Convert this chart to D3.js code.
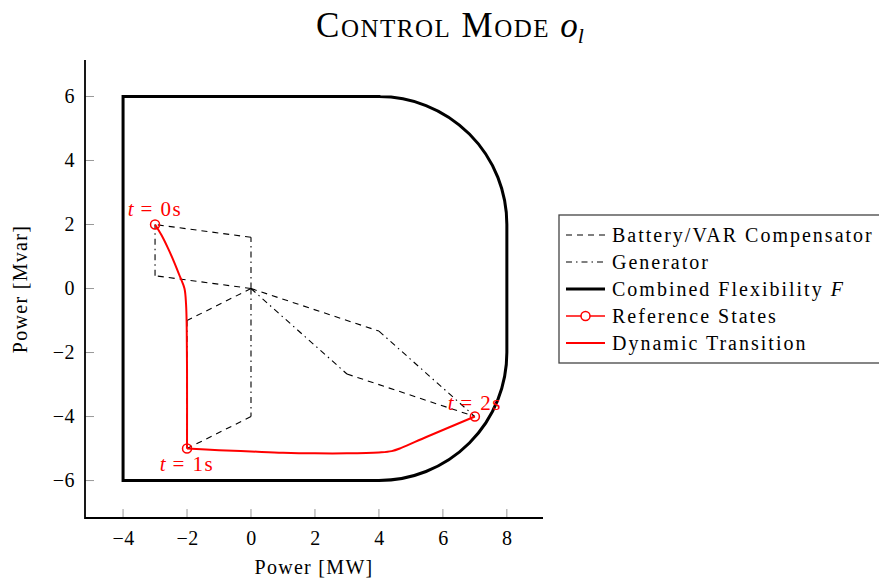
<!DOCTYPE html>
<html>
<head>
<meta charset="utf-8">
<script src="https://cdn.jsdelivr.net/npm/d3@7"></script>
<style>
  body { margin: 0; background: #fff; }
  svg { display: block; font-family: "Liberation Serif", "DejaVu Serif", serif; }
</style>
</head>
<body>
<svg id="chart"></svg>
<script>
// Axis ticks
const xTicks = [-4, -2, 0, 2, 4, 6, 8];
const yTicks = [-6, -4, -2, 0, 2, 4, 6];

// Combined flexibility F: corners of the outline and radius of the rounded corners
const flexOutline = [[-4, -6], [-4, 6], [4, 6], [8, 2], [8, -2], [4, -6]];
const flexRadius = 4;

// Reference states at t = 0s, 1s, 2s
const refLabels = ["0s", "1s", "2s"];
const refP = [-3, -2, 7];
const refQ = [2, -5, -4];

// Battery / VAR compensator share of each state
const batP = [-3, -2, 4];
const batQ = [0.4, -1, -1.33];

// Generator share of each state
const genP = [0, 0, 3];
const genQ = [1.6, -4, -2.67];

// Dynamic transition, first leg (t = 0s -> 1s) and second leg (t = 1s -> 2s)
const dyn1P = [-3, -2.8, -2.6, -2.4, -2.22, -2.08, -2.03, -2.01, -2, -2];
const dyn1Q = [2, 1.67, 1.27, 0.82, 0.37, 0, -0.5, -1.2, -2.5, -5];
const dyn2P = [-2, -1, 0, 1, 2, 3, 4, 4.4, 4.7, 5.5, 7];
const dyn2Q = [-5, -5.05, -5.09, -5.13, -5.15, -5.15, -5.12, -5.08, -4.98, -4.63, -4];

const legendItems = ["Battery/VAR Compensator", "Generator", "Combined Flexibility ",
                     "Reference States", "Dynamic Transition"];

const W = 879, H = 578;

const svg = d3.select("#chart").attr("width", W).attr("height", H);

const x = d3.scaleLinear().domain([-5.19, 9.13]).range([85, 543]);
const y = d3.scaleLinear().domain([-7.17, 7.14]).range([518, 60]);

const DASH = "6,5";
const DASHDOT = "6,4,1.5,4";
const minus = d => d < 0 ? "\u2212" + Math.abs(d) : d;

// Axes (left and bottom only, ticks pointing inwards)
const xAxis = svg.append("g")
    .attr("transform", `translate(0,${y.range()[0]})`)
    .call(d3.axisBottom(x).tickValues(xTicks).tickSize(0).tickPadding(13).tickFormat(minus));
const yAxis = svg.append("g")
    .attr("transform", `translate(${x.range()[0]},0)`)
    .call(d3.axisLeft(y).tickValues(yTicks).tickSize(0).tickPadding(10).tickFormat(minus));

[xAxis, yAxis].forEach(g => {
  g.select(".domain").remove();
  g.attr("font-family", null);
  g.selectAll("text").attr("font-size", 20).attr("fill", "#000").attr("letter-spacing", 0.5);
});
xAxis.selectAll("text").attr("dy", "0.71em");

// tick marks inside
svg.append("g").selectAll("line").data(xTicks).join("line")
    .attr("x1", d => x(d)).attr("x2", d => x(d))
    .attr("y1", y.range()[0]).attr("y2", y.range()[0] - 9)
    .attr("stroke", "#999").attr("stroke-width", 1);
svg.append("g").selectAll("line").data(yTicks).join("line")
    .attr("y1", d => y(d)).attr("y2", d => y(d))
    .attr("x1", x.range()[0]).attr("x2", x.range()[0] + 9)
    .attr("stroke", "#999").attr("stroke-width", 1);

// axis lines
svg.append("path")
    .attr("d", `M${x.range()[0]},${y.range()[1]}V${y.range()[0]}H${x.range()[1]}`)
    .attr("fill", "none").attr("stroke", "#000").attr("stroke-width", 1.8);

// Combined flexibility outline with rounded corners
const r = x(flexRadius) - x(0);
const fp = d3.path();
fp.moveTo(x(flexOutline[0][0]), y(flexOutline[0][1]));
fp.lineTo(x(flexOutline[1][0]), y(flexOutline[1][1]));
fp.lineTo(x(flexOutline[2][0]), y(flexOutline[2][1]));
fp.arc(x(flexOutline[2][0]), y(flexOutline[3][1]), r, -Math.PI / 2, 0);
fp.lineTo(x(flexOutline[4][0]), y(flexOutline[4][1]));
fp.arc(x(flexOutline[5][0]), y(flexOutline[4][1]), r, 0, Math.PI / 2);
fp.closePath();
svg.append("path").attr("d", fp.toString())
    .attr("fill", "none").attr("stroke", "#000").attr("stroke-width", 3)
    .attr("stroke-linejoin", "miter");

// Battery and generator contributions as parallelograms
const segs = [];
refP.forEach((p, i) => {
  segs.push({ a: [0, 0], b: [batP[i], batQ[i]], dash: DASH });
  segs.push({ a: [batP[i], batQ[i]], b: [refP[i], refQ[i]], dash: DASHDOT });
  segs.push({ a: [0, 0], b: [genP[i], genQ[i]], dash: DASHDOT });
  segs.push({ a: [genP[i], genQ[i]], b: [refP[i], refQ[i]], dash: DASH });
});
svg.append("g").selectAll("line").data(segs).join("line")
    .attr("x1", d => x(d.a[0])).attr("y1", d => y(d.a[1]))
    .attr("x2", d => x(d.b[0])).attr("y2", d => y(d.b[1]))
    .attr("stroke", "#000").attr("stroke-width", 1.1)
    .attr("stroke-dasharray", d => d.dash);

// Dynamic transition
const dynLine = d3.line().x(d => x(d[0])).y(d => y(d[1])).curve(d3.curveCatmullRom.alpha(0.5));
const legs = [dyn1P.map((p, i) => [p, dyn1Q[i]]), dyn2P.map((p, i) => [p, dyn2Q[i]])];
svg.append("path")
    .attr("d", legs.map(l => dynLine(l)).join(""))
    .attr("fill", "none").attr("stroke", "#f00").attr("stroke-width", 2)
    .attr("stroke-linejoin", "round");

// Reference states
svg.append("g").selectAll("circle").data(refP).join("circle")
    .attr("cx", d => x(d)).attr("cy", (d, i) => y(refQ[i])).attr("r", 4.5)
    .attr("fill", "none").attr("stroke", "#f00").attr("stroke-width", 1.5);

const labelDy = [-9, 22, -7];
const tl = svg.append("g").selectAll("text").data(refLabels).join("text")
    .attr("x", (d, i) => x(refP[i]))
    .attr("y", (d, i) => y(refQ[i]) + labelDy[i])
    .attr("text-anchor", "middle").attr("font-size", 21).attr("fill", "#f00")
    .attr("xml:space", "preserve");
tl.append("tspan").attr("font-style", "italic").text("t");
tl.append("tspan").attr("letter-spacing", 1.5).text(d => " = " + d);

// Title
const title = svg.append("text").attr("x", 450).attr("y", 37)
    .attr("text-anchor", "middle").attr("font-size", 35);
title.append("tspan").style("font-variant", "small-caps").attr("letter-spacing", 1.5).text("Control Mode ");
title.append("tspan").attr("font-style", "italic").text("o");
title.append("tspan").attr("font-style", "italic").attr("font-size", 22).attr("dy", 6).text("l");

// Axis labels
svg.append("text").attr("x", 314).attr("y", 574).attr("text-anchor", "middle")
    .attr("font-size", 20).attr("letter-spacing", 1.3).text("Power [MW]");
svg.append("text").attr("transform", "translate(27,289) rotate(-90)")
    .attr("text-anchor", "middle").attr("font-size", 20).attr("letter-spacing", 1.3).text("Power [Mvar]");

// Legend
const lg = svg.append("g").attr("transform", "translate(559,215)");
lg.append("rect").attr("x", 0).attr("y", 0).attr("width", 330).attr("height", 148)
    .attr("fill", "#fff").attr("stroke", "#444").attr("stroke-width", 1.3);
const rowY = i => 20 + i * 27;
const styles = [
  { stroke: "#000", w: 1.1, dash: DASH },
  { stroke: "#000", w: 1.1, dash: DASHDOT },
  { stroke: "#000", w: 3, dash: null },
  { stroke: "#f00", w: 1.5, dash: null },
  { stroke: "#f00", w: 2, dash: null }
];
legendItems.forEach((t, i) => {
  lg.append("line").attr("x1", 7).attr("x2", 46).attr("y1", rowY(i)).attr("y2", rowY(i))
      .attr("stroke", styles[i].stroke).attr("stroke-width", styles[i].w)
      .attr("stroke-dasharray", styles[i].dash);
  const tx = lg.append("text").attr("x", 53).attr("y", rowY(i) + 7)
      .attr("font-size", 20).attr("letter-spacing", 2).text(t);
  if (i === 2) tx.append("tspan").attr("font-style", "italic").text("F");
});
lg.append("circle").attr("cx", 26.5).attr("cy", rowY(3)).attr("r", 4.5)
    .attr("fill", "#fff").attr("stroke", "#f00").attr("stroke-width", 1.5);
</script>
</body>
</html>
